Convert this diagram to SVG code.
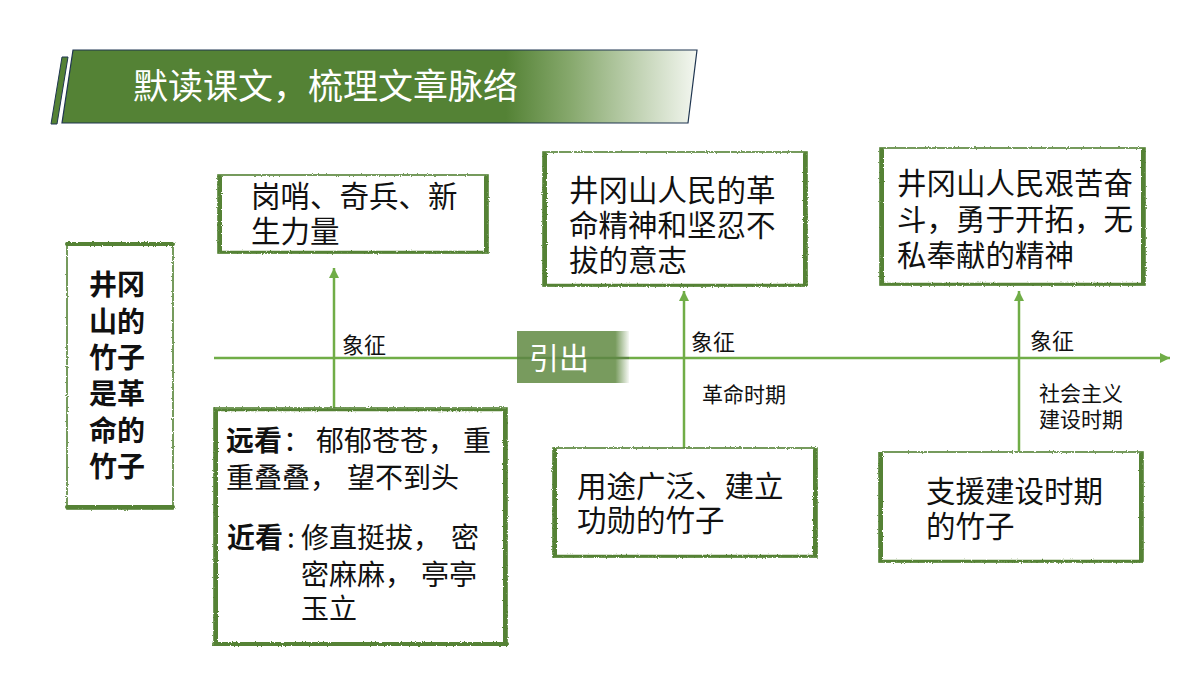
<svg xmlns="http://www.w3.org/2000/svg" width="1200" height="675" viewBox="0 0 1200 675">
<style>
.t{font-family:"Noto Sans CJK SC","Liberation Sans",sans-serif;fill:#111;}
.box{font-size:28px;}
.lab{font-size:21px;}
.lab2{font-size:22px;}
.bd{fill:none;stroke:#548235;stroke-width:1.6;}
.thick{fill:none;stroke:#548235;stroke-width:4;stroke-linecap:round;}
.med{fill:none;stroke:#548235;stroke-width:2.6;}
.ln{stroke:#70AD47;stroke-width:2.5;fill:none;}
</style>
<defs>
<linearGradient id="hg" gradientUnits="userSpaceOnUse" x1="60" y1="0" x2="697" y2="0">
<stop offset="0" stop-color="#548235"/>
<stop offset="0.7" stop-color="#548235"/>
<stop offset="0.8" stop-color="#86a86c"/>
<stop offset="1" stop-color="#f4f7f1"/>
</linearGradient>
<linearGradient id="yg" gradientUnits="userSpaceOnUse" x1="517" y1="0" x2="630" y2="0">
<stop offset="0" stop-color="#789b5e"/>
<stop offset="0.87" stop-color="#789b5e"/>
<stop offset="1" stop-color="#ffffff"/>
</linearGradient>
<filter id="rough" x="-5%" y="-5%" width="110%" height="110%">
<feTurbulence type="fractalNoise" baseFrequency="0.8" numOctaves="2" seed="3" result="n"/>
<feDisplacementMap in="SourceGraphic" in2="n" scale="2.5" xChannelSelector="R" yChannelSelector="G"/>
</filter>
<marker id="ah" markerUnits="userSpaceOnUse" markerWidth="12" markerHeight="10" refX="10" refY="5" orient="auto">
<path d="M0,0 L10,5 L0,10 Z" fill="#70AD47"/>
</marker>
</defs>

<g id="header">
<polygon points="62,57 68,57 57,124 51,124" fill="#548235" stroke="#1f3550" stroke-width="1"/>
<polygon points="73,50 697,50 688,123 62,123" fill="url(#hg)" stroke="#1f3550" stroke-width="1.2"/>
<text x="133" y="99" style="font-family:'Noto Sans CJK SC','Liberation Sans',sans-serif;font-size:35px;fill:#ffffff;">默读课文，梳理文章脉络</text>
</g>

<g id="connectors">
<line class="ln" x1="214" y1="358" x2="1170" y2="358" marker-end="url(#ah)"/>
<line class="ln" x1="334" y1="408" x2="334" y2="268" marker-end="url(#ah)"/>
<line class="ln" x1="684" y1="448" x2="684" y2="291" marker-end="url(#ah)"/>
<line class="ln" x1="1019" y1="451" x2="1019" y2="291" marker-end="url(#ah)"/>
<text class="t lab2" x="342" y="353">象征</text>
<text class="t lab2" x="691" y="350">象征</text>
<text class="t lab2" x="1030" y="349">象征</text>
<text class="t lab" x="702" y="402">革命时期</text>
<text class="t lab" x="1039" y="401">社会主义</text>
<text class="t lab" x="1039" y="427">建设时期</text>
</g>

<g id="node-yinchu">
<rect x="517" y="331" width="112" height="52" fill="url(#yg)"/>
<line x1="517" y1="358" x2="629" y2="358" stroke="#5f8a45" stroke-width="2.5"/>
<text x="529" y="369" style="font-family:'Noto Sans CJK SC','Liberation Sans',sans-serif;font-size:30px;fill:#ffffff;">引出</text>
</g>

<g id="node-main">
<g filter="url(#rough)">
<rect class="bd" x="67" y="243" width="106" height="266"/>
<line class="thick" x1="67" y1="244" x2="173" y2="244"/>
<line class="thick" x1="67" y1="507" x2="173" y2="507"/>
</g>
<text class="t" x="89" style="font-size:28px;font-weight:700;">
<tspan x="89" y="295">井冈</tspan><tspan x="89" y="332">山的</tspan><tspan x="89" y="368">竹子</tspan><tspan x="89" y="404">是革</tspan><tspan x="89" y="441">命的</tspan><tspan x="89" y="477">竹子</tspan>
</text>
</g>

<g id="node-gangshao">
<g filter="url(#rough)">
<rect class="bd" x="218" y="175" width="270" height="78"/>
<line class="thick" x1="220" y1="177" x2="220" y2="251"/>
<line class="thick" x1="486" y1="177" x2="486" y2="251"/>
<line class="med" x1="218" y1="252" x2="488" y2="252"/>
</g>
<text class="t box" style="font-size:29.5px;"><tspan x="251" y="207">岗哨、奇兵、新</tspan><tspan x="251" y="242">生力量</tspan></text>
</g>

<g id="node-kan">
<g filter="url(#rough)">
<rect class="bd" x="214" y="408" width="293" height="237"/>
<line class="med" x1="214" y1="410" x2="507" y2="410"/>
<line class="thick" x1="216" y1="412" x2="216" y2="643"/>
<line class="thick" x1="505" y1="412" x2="505" y2="643"/>
<line class="thick" x1="214" y1="644" x2="507" y2="644"/>
</g>
<text class="t box"><tspan x="226" y="451" font-weight="700">远看</tspan><tspan x="283">：</tspan><tspan x="316">郁郁苍苍，</tspan><tspan x="463">重</tspan></text>
<text class="t box"><tspan x="226" y="488">重叠叠，</tspan><tspan x="347">望不到头</tspan></text>
<text class="t box"><tspan x="227" y="548" font-weight="700">近看</tspan><tspan x="287">:</tspan><tspan x="301">修直挺拔，</tspan><tspan x="451">密</tspan></text>
<text class="t box"><tspan x="301" y="585">密麻麻，</tspan><tspan x="421">亭亭</tspan></text>
<text class="t box"><tspan x="301" y="619">玉立</tspan></text>
</g>

<g id="node-geming">
<g filter="url(#rough)">
<rect class="bd" x="543" y="152" width="264" height="134"/>
<line class="thick" x1="545" y1="154" x2="545" y2="284"/>
<line class="thick" x1="805" y1="154" x2="805" y2="284"/>
<line class="med" x1="543" y1="285" x2="807" y2="285"/>
</g>
<text class="t box" style="font-size:29.5px;"><tspan x="569" y="201">井冈山人民的革</tspan><tspan x="569" y="236">命精神和坚忍不</tspan><tspan x="569" y="271">拔的意志</tspan></text>
</g>

<g id="node-yongtu">
<g filter="url(#rough)">
<rect class="bd" x="553" y="448" width="264" height="109"/>
<line class="thick" x1="555" y1="450" x2="555" y2="555"/>
<line class="thick" x1="815" y1="450" x2="815" y2="555"/>
<line class="med" x1="553" y1="556" x2="817" y2="556"/>
</g>
<text class="t box" style="font-size:29.5px;"><tspan x="577" y="497">用途广泛、建立</tspan><tspan x="577" y="531">功勋的竹子</tspan></text>
</g>

<g id="node-fendou">
<g filter="url(#rough)">
<rect class="bd" x="880" y="148" width="265" height="137"/>
<line class="thick" x1="882" y1="150" x2="882" y2="283"/>
<line class="thick" x1="1143" y1="150" x2="1143" y2="283"/>
<line class="med" x1="880" y1="284" x2="1145" y2="284"/>
</g>
<text class="t box" style="font-size:29.5px;"><tspan x="897" y="194">井冈山人民艰苦奋</tspan><tspan x="897" y="230">斗，勇于开拓，无</tspan><tspan x="897" y="266">私奉献的精神</tspan></text>
</g>

<g id="node-zhiyuan">
<g filter="url(#rough)">
<rect class="bd" x="879" y="452" width="264" height="110"/>
<line class="thick" x1="881" y1="454" x2="881" y2="560"/>
<line class="thick" x1="1141" y1="454" x2="1141" y2="560"/>
<line class="med" x1="879" y1="561" x2="1143" y2="561"/>
</g>
<text class="t box" style="font-size:29.5px;"><tspan x="926" y="502">支援建设时期</tspan><tspan x="926" y="537">的竹子</tspan></text>
</g>
</svg>
